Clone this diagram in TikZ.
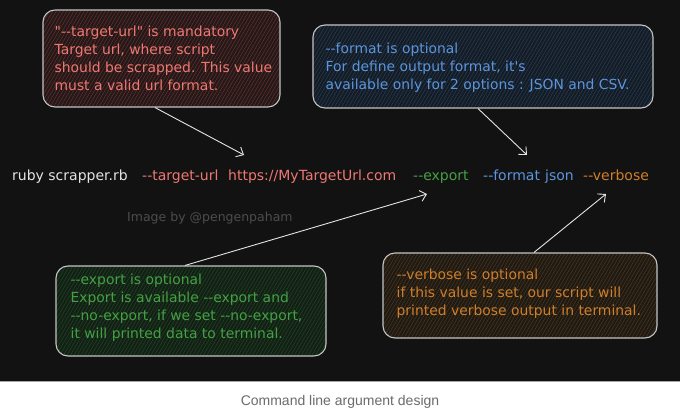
\documentclass[tikz,border=0pt]{standalone}
\usepackage{fontspec}
\setmainfont{DejaVu Sans}[Ligatures=TeXOff]
\newfontfamily\capfont{Liberation Sans}[Ligatures=TeXOff]
\usetikzlibrary{arrows.meta}
\definecolor{bg}{HTML}{121212}
\definecolor{boxline}{HTML}{C4C4C4}
\definecolor{tred}{HTML}{EE7872}
\definecolor{tblue}{HTML}{5C95DC}
\definecolor{tgreen}{HTML}{45A045}
\definecolor{torange}{HTML}{CF7E2A}
\definecolor{twhite}{HTML}{E4E4E4}
\definecolor{fred}{HTML}{231919}
\definecolor{fblue}{HTML}{161C24}
\definecolor{fgreen}{HTML}{142016}
\definecolor{forange}{HTML}{1F1A14}
\definecolor{hred}{HTML}{6E3030}
\definecolor{hblue}{HTML}{24405E}
\definecolor{hgreen}{HTML}{1F4A24}
\definecolor{horange}{HTML}{4E3A1E}
\definecolor{wmark}{HTML}{4C4C4C}
\definecolor{captxt}{HTML}{6B6B6B}
\tikzset{
  note/.style 2 args={draw=boxline, line width=1.1pt, rounded corners=12pt,
    fill=#1, inner sep=0pt,
    path picture={
      \foreach \k in {-70,-66.5,...,360}
        \draw[#2, line width=0.45pt]
          ([xshift=\k pt]path picture bounding box.south west) -- ++(60:130pt);
    }},
  notetext/.style={anchor=west, align=left, inner sep=0pt,
    font=\fontsize{13.9}{18}\selectfont, text=#1},
  cmd/.style={anchor=base west, inner sep=0pt, font=\fontsize{14}{15}\selectfont, text=#1},
  pointer/.style={draw=twhite, line width=0.9pt,
    -{Straight Barb[length=6pt,width=11pt,line width=0.9pt]}}
}
\begin{document}
\begin{tikzpicture}[x=1pt,y=-1pt]
\useasboundingbox (0,0) rectangle (680,412);
\fill[bg] (0,0) rectangle (680,381);
\fill[white] (0,381) rectangle (680,412);
\draw[black!35, line width=0.6pt] (0,381) -- (680,381);

% boxes
\node[note={fred}{hred}, minimum width=237pt, minimum height=97pt] (redbox) at (161.5,58.5) {};
\node[notetext=tred] (redtxt) at ([xshift=12pt]redbox.west)
  {"--target-url" is mandatory\\Target url, where script\\should be scrapped. This value\\must a valid url format.};

\node[note={fblue}{hblue}, minimum width=340pt, minimum height=83pt] (bluebox) at (483,66.5) {};
\node[notetext=tblue] (bluetxt) at ([xshift=13pt,yshift=-1.5pt]bluebox.west)
  {--format is optional\\For define output format, it's\\available only for 2 options : JSON and CSV.};

\node[note={fgreen}{hgreen}, minimum width=270pt, minimum height=90pt] (greenbox) at (191,311) {};
\node[notetext=tgreen] (greentxt) at ([xshift=15pt,yshift=3pt]greenbox.west)
  {--export is optional\\Export is available --export and\\--no-export, if we set --no-export,\\it will printed data to terminal.};

\node[note={forange}{horange}, minimum width=274pt, minimum height=85pt] (orangebox) at (520,295.5) {};
\node[notetext=torange] (orangetxt) at ([xshift=14pt,yshift=2pt]orangebox.west)
  {--verbose is optional\\if this value is set, our script will\\printed verbose output in terminal.};

% command line
\node[cmd=twhite] (ruby) at (12,180) {ruby scrapper.rb};
\node[cmd=tred] (target) at (142,180) {--target-url};
\node[cmd=tred] (url) at (228,180) {https://MyTargetUrl.com};
\node[cmd=tgreen] (export) at (413,180) {--export};
\node[cmd=tblue] (format) at (483,180) {--format};
\node[cmd=tblue] (json) at (545,180) {json};
\node[cmd=torange] (verbose) at (583,180) {--verbose};

% watermark
\node[anchor=base west, inner sep=0pt, text=wmark, font=\fontsize{12.5}{14}\selectfont] (wm) at (127,221) {Image by @pengenpaham};

% arrow end points
\coordinate (e1) at (244,155);
\coordinate (e2) at (527,155);
\coordinate (e3) at (427,194);
\coordinate (e4) at (606,194);

\draw[pointer] ([xshift=-6.5pt]redbox.south) -- (e1);
\draw[pointer] ([xshift=-5pt]bluebox.south) -- (e2);
\draw[pointer] ([xshift=-6pt]greenbox.north) -- (e3);
\draw[pointer] ([xshift=14pt]orangebox.north) -- (e4);

% caption
\node[text=captxt, font=\capfont\fontsize{14}{16}\selectfont, inner sep=0pt] (cap) at (340,402) {Command line argument design};
\end{tikzpicture}
\end{document}
